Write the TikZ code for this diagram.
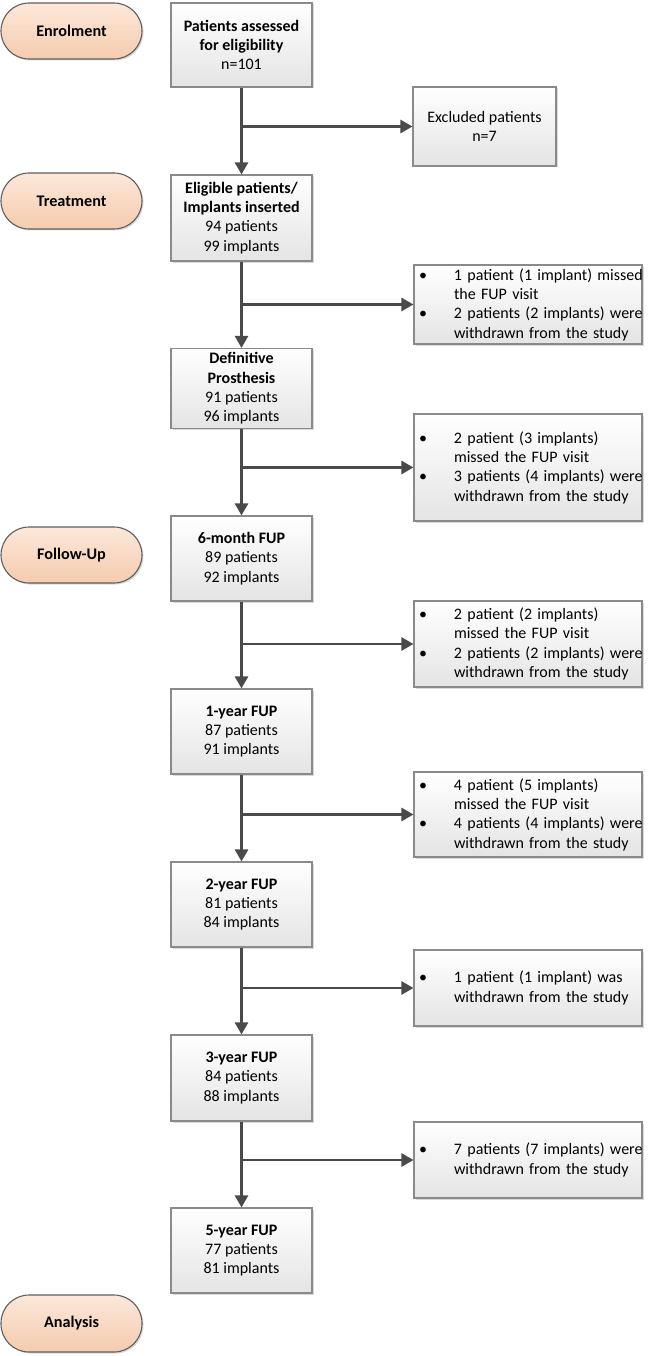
\documentclass[tikz,border=0pt]{standalone}
\usepackage{fontspec}
\setmainfont{Carlito}
\usetikzlibrary{arrows.meta,shadows}
\definecolor{arrc}{HTML}{4A4A4A}
\definecolor{boxc}{HTML}{8A8A8A}
\definecolor{boxbot}{HTML}{E4E4E4}
\definecolor{pilltop}{HTML}{FCE8DA}
\definecolor{pillbot}{HTML}{F5CBAE}
\definecolor{pillc}{HTML}{5E5E5E}
\tikzset{
  shd/.style={drop shadow={shadow xshift=1.5pt,shadow yshift=-1.5pt,opacity=0.25,fill=black!60}},
  mbox/.style={draw=boxc, line width=1.1pt, top color=white, bottom color=boxbot, shd,
    minimum width=141pt, align=center, inner sep=2pt},
  sbox/.style={draw=boxc, line width=1.1pt, top color=white, bottom color=boxbot, shd,
    text width=224pt, align=left, inner xsep=2pt, inner ysep=2pt},
  pill/.style={draw=pillc, line width=1.1pt, top color=pilltop, bottom color=pillbot, shd,
    rounded corners=28pt, minimum width=141pt, font=\fontsize{16.2}{19.3}\selectfont\bfseries},
  arr/.style={draw=arrc, line width=2.5pt, -{Triangle[length=12pt,width=13pt]}, fill=arrc},
}
\newcommand{\bl}[1]{\mbox{\makebox[38pt][l]{\hspace*{3pt}\textbullet}#1}}
\newcommand{\il}[1]{\mbox{\hspace*{38pt}#1}}
\begin{document}
\begin{tikzpicture}[x=1pt,y=-1pt, font=\fontsize{16}{19.3}\selectfont]
\useasboundingbox (0,0) rectangle (650,1356);
% left stage pills
\node[pill, minimum height=56pt] (p1) at (71.5,31) {Enrolment};
\node[pill, minimum height=56pt] (p2) at (71.5,201) {Treatment};
\node[pill, minimum height=56pt] (p3) at (71.5,555) {Follow-Up};
\node[pill, minimum height=57pt] (p4) at (71.5,1323.5) {Analysis};
% main boxes
\node[mbox, minimum height=84pt] (b1) at (241.5,45) {\textbf{Patients assessed}\\\textbf{for eligibility}\\n=101};
\node[mbox, minimum height=86pt] (b2) at (241.5,218) {\textbf{Eligible patients/}\\\textbf{Implants inserted}\\94 patients\\99 implants};
\node[mbox, minimum height=80pt] (b3) at (241.5,388.5) {\textbf{Definitive}\\\textbf{Prosthesis}\\91 patients\\96 implants};
\node[mbox, minimum height=85pt] (b4) at (241.5,558.5) {\textbf{6-month FUP}\\89 patients\\92 implants};
\node[mbox, minimum height=85pt] (b5) at (241.5,731.5) {\textbf{1-year FUP}\\87 patients\\91 implants};
\node[mbox, minimum height=85pt] (b6) at (241.5,904.5) {\textbf{2-year FUP}\\81 patients\\84 implants};
\node[mbox, minimum height=86pt] (b7) at (241.5,1078) {\textbf{3-year FUP}\\84 patients\\88 implants};
\node[mbox, minimum height=85pt] (b8) at (241.5,1250.5) {\textbf{5-year FUP}\\77 patients\\81 implants};
% side boxes
\node[mbox, minimum height=79pt, minimum width=143pt] (s1) at (484.5,126.5) {Excluded patients\\n=7};
\node[sbox, minimum height=79pt] (s2) at (528,304.5) {\bl{1 patient (1 implant) missed}\\\il{the FUP visit}\\\bl{2 patients (2 implants) were}\\\il{withdrawn from the study}};
\node[sbox, minimum height=107pt] (s3) at (528,467.5) {\bl{2 patient (3 implants)}\\\il{missed the FUP visit}\\\bl{3 patients (4 implants) were}\\\il{withdrawn from the study}};
\node[sbox, minimum height=86pt] (s4) at (528,644) {\bl{2 patient (2 implants)}\\\il{missed the FUP visit}\\\bl{2 patients (2 implants) were}\\\il{withdrawn from the study}};
\node[sbox, minimum height=85pt] (s5) at (528,814.5) {\bl{4 patient (5 implants)}\\\il{missed the FUP visit}\\\bl{4 patients (4 implants) were}\\\il{withdrawn from the study}};
\node[sbox, minimum height=76pt] (s6) at (528,988) {\bl{1 patient (1 implant) was}\\\il{withdrawn from the study}};
\node[sbox, minimum height=76pt] (s7) at (528,1160) {\bl{7 patients (7 implants) were}\\\il{withdrawn from the study}};
% connectors
\foreach \a/\b/\s in {b1/b2/s1,b2/b3/s2,b3/b4/s3,b4/b5/s4,b5/b6/s5,b6/b7/s6,b7/b8/s7}{
  \draw[arr] (\a.south) -- (\b.north);
  \draw[arr] (\a.south |- \s.west) -- (\s.west);
}
\end{tikzpicture}
\end{document}
